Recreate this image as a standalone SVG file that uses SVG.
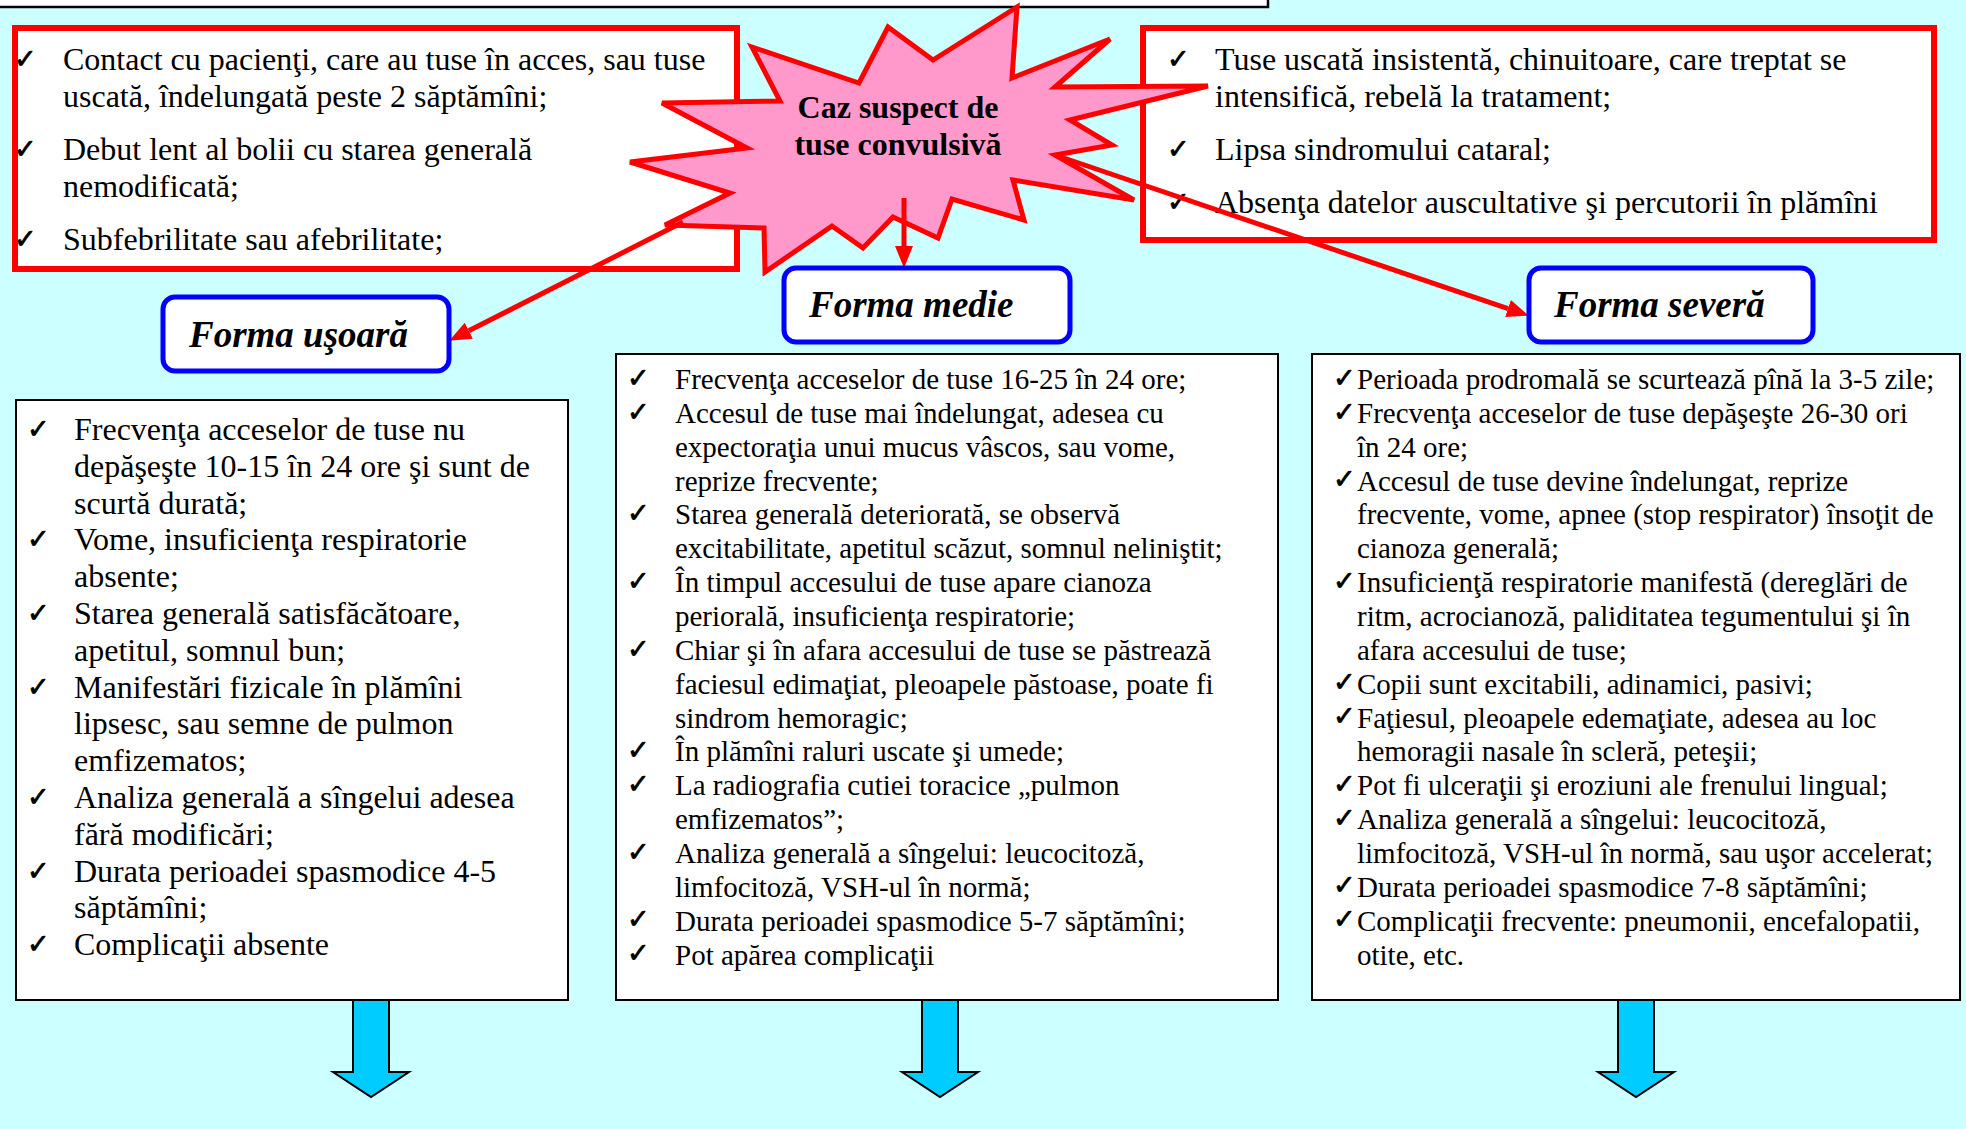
<svg xmlns="http://www.w3.org/2000/svg" width="1966" height="1129" viewBox="0 0 1966 1129">
<style>
.bg{fill:#ccffff}
.redbox{fill:#ffffff;stroke:#ff0000;stroke-width:6}
.formbox{fill:#ffffff;stroke:#0000ff;stroke-width:5}
.listbox{fill:#ffffff;stroke:#000000;stroke-width:2}
.t32{font-family:"Liberation Serif","Times New Roman",serif;font-size:32px;fill:#000}
.t29{font-family:"Liberation Serif","Times New Roman",serif;font-size:29px;fill:#000}
.chk{font-family:"DejaVu Sans",sans-serif;font-size:27px;fill:#000;stroke:#000;stroke-width:0.8}
.star{fill:#ff99cc;stroke:#ff0000;stroke-width:5;stroke-linejoin:miter}
.startxt{font-family:"Liberation Serif","Times New Roman",serif;font-size:32px;font-weight:bold;fill:#000}
.formtxt{font-family:"Liberation Serif","Times New Roman",serif;font-size:37px;font-weight:bold;font-style:italic;fill:#000}
.conn{stroke:#ff0000;stroke-width:5;fill:none}
.blue{fill:#00ccff;stroke:#000;stroke-width:2;stroke-linejoin:miter}
</style>
<defs>
<marker id="ah" markerUnits="userSpaceOnUse" markerWidth="22" markerHeight="18" refX="0" refY="9" orient="auto">
<path d="M0,0 L22,9 L0,18 z" fill="#ff0000"/>
</marker>
</defs>
<rect class="bg" x="0" y="0" width="1966" height="1129"/>
<g id="top-box"><rect x="-5" y="-20" width="1273" height="27" fill="#ffffff" stroke="#000" stroke-width="2.5"/></g>

<g id="criteria-left">
<rect class="redbox" x="15" y="28" width="722" height="241"/>
<text class="chk" x="14" y="68">✓</text>
<text class="chk" x="14" y="158">✓</text>
<text class="chk" x="14" y="248">✓</text>
<text class="t32"><tspan x="63" y="70">Contact cu pacienţi, care au tuse în acces, sau tuse</tspan><tspan x="63" y="107">uscată, îndelungată peste 2 săptămîni;</tspan><tspan x="63" y="160">Debut lent al bolii cu starea generală</tspan><tspan x="63" y="197">nemodificată;</tspan><tspan x="63" y="250">Subfebrilitate sau afebrilitate;</tspan></text>
</g>

<g id="criteria-right">
<rect class="redbox" x="1143" y="28" width="791" height="212"/>
<text class="chk" x="1167" y="68">✓</text>
<text class="chk" x="1167" y="158">✓</text>
<text class="chk" x="1167" y="211">✓</text>
<text class="t32"><tspan x="1215" y="70">Tuse uscată insistentă, chinuitoare, care treptat se</tspan><tspan x="1215" y="107">intensifică, rebelă la tratament;</tspan><tspan x="1215" y="160">Lipsa sindromului cataral;</tspan><tspan x="1215" y="213">Absenţa datelor auscultative şi percutorii în plămîni</tspan></text>
</g>

<g id="suspect">
<polygon class="star" points="1017,7 1012,78 1110,39 1055,87 1208,86 1070,120 1112,145 1055,155 1134,200 1013,180 1024,220 952,199 938,238 893,217 863,248 832,226 765,272 764,228 665,225 730,193 630,162 747,148 662,103 780,101 752,47 859,83 888,27 933,60"/>
<text class="startxt" text-anchor="middle"><tspan x="898" y="118">Caz suspect de</tspan><tspan x="898" y="155">tuse convulsivă</tspan></text>
</g>

<g id="connectors">
<line class="conn" x1="683" y1="222" x2="468.8" y2="330.8" marker-end="url(#ah)"/>
<line class="conn" x1="904" y1="198" x2="904" y2="246" marker-end="url(#ah)"/>
<line class="conn" x1="1055" y1="155" x2="1508" y2="308.6" marker-end="url(#ah)"/>
</g>

<g id="forma-usoara">
<rect class="formbox" x="163" y="297" width="286" height="74" rx="12"/>
<text class="formtxt" x="189" y="347">Forma uşoară</text>
</g>
<g id="forma-medie">
<rect class="formbox" x="784" y="268" width="286" height="74" rx="12"/>
<text class="formtxt" x="809" y="317">Forma medie</text>
</g>
<g id="forma-severa">
<rect class="formbox" x="1529" y="268" width="284" height="74" rx="12"/>
<text class="formtxt" x="1554" y="317">Forma severă</text>
</g>

<g id="list-usoara">
<rect class="listbox" x="16" y="400" width="552" height="600"/>
<g class="chk"><text x="27" y="438">✓</text><text x="27" y="548">✓</text><text x="27" y="622">✓</text><text x="27" y="696">✓</text><text x="27" y="806">✓</text><text x="27" y="880">✓</text><text x="27" y="953">✓</text></g>
<text class="t32"><tspan x="74" y="440">Frecvenţa acceselor de tuse nu</tspan><tspan x="74" y="476.8">depăşeşte 10-15 în 24 ore şi sunt de</tspan><tspan x="74" y="513.6">scurtă durată;</tspan><tspan x="74" y="550.4">Vome, insuficienţa respiratorie</tspan><tspan x="74" y="587.2">absente;</tspan><tspan x="74" y="624">Starea generală satisfăcătoare,</tspan><tspan x="74" y="660.8">apetitul, somnul bun;</tspan><tspan x="74" y="697.6">Manifestări fizicale în plămîni</tspan><tspan x="74" y="734.4">lipsesc, sau semne de pulmon</tspan><tspan x="74" y="771.2">emfizematos;</tspan><tspan x="74" y="808">Analiza generală a sîngelui adesea</tspan><tspan x="74" y="844.8">fără modificări;</tspan><tspan x="74" y="881.6">Durata perioadei spasmodice 4-5</tspan><tspan x="74" y="918.4">săptămîni;</tspan><tspan x="74" y="955.2">Complicaţii absente</tspan></text>
</g>

<g id="list-medie">
<rect class="listbox" x="616" y="354" width="662" height="646"/>
<g class="chk"><text x="627" y="387">✓</text><text x="627" y="421">✓</text><text x="627" y="522">✓</text><text x="627" y="590">✓</text><text x="627" y="658">✓</text><text x="627" y="759">✓</text><text x="627" y="793">✓</text><text x="627" y="861">✓</text><text x="627" y="928">✓</text><text x="627" y="962">✓</text></g>
<text class="t29"><tspan x="675" y="389">Frecvenţa acceselor de tuse 16-25 în 24 ore;</tspan><tspan x="675" y="422.9">Accesul de tuse mai îndelungat, adesea cu</tspan><tspan x="675" y="456.7">expectoraţia unui mucus vâscos, sau vome,</tspan><tspan x="675" y="490.6">reprize frecvente;</tspan><tspan x="675" y="524.4">Starea generală deteriorată, se observă</tspan><tspan x="675" y="558.3">excitabilitate, apetitul scăzut, somnul neliniştit;</tspan><tspan x="675" y="592.1">În timpul accesului de tuse apare cianoza</tspan><tspan x="675" y="626">periorală, insuficienţa respiratorie;</tspan><tspan x="675" y="659.8">Chiar şi în afara accesului de tuse se păstrează</tspan><tspan x="675" y="693.7">faciesul edimaţiat, pleoapele păstoase, poate fi</tspan><tspan x="675" y="727.5">sindrom hemoragic;</tspan><tspan x="675" y="761.4">În plămîni raluri uscate şi umede;</tspan><tspan x="675" y="795.2">La radiografia cutiei toracice „pulmon</tspan><tspan x="675" y="829.1">emfizematos”;</tspan><tspan x="675" y="862.9">Analiza generală a sîngelui: leucocitoză,</tspan><tspan x="675" y="896.8">limfocitoză, VSH-ul în normă;</tspan><tspan x="675" y="930.6">Durata perioadei spasmodice 5-7 săptămîni;</tspan><tspan x="675" y="964.5">Pot apărea complicaţii</tspan></text>
</g>

<g id="list-severa">
<rect class="listbox" x="1312" y="354" width="648" height="646"/>
<g class="chk"><text x="1333" y="387">✓</text><text x="1333" y="421">✓</text><text x="1333" y="488">✓</text><text x="1333" y="590">✓</text><text x="1333" y="691">✓</text><text x="1333" y="725">✓</text><text x="1333" y="793">✓</text><text x="1333" y="827">✓</text><text x="1333" y="894">✓</text><text x="1333" y="928">✓</text></g>
<text class="t29"><tspan x="1357" y="389">Perioada prodromală se scurtează pînă la 3-5 zile;</tspan><tspan x="1357" y="422.9">Frecvenţa acceselor de tuse depăşeşte 26-30 ori</tspan><tspan x="1357" y="456.7">în 24 ore;</tspan><tspan x="1357" y="490.6">Accesul de tuse devine îndelungat, reprize</tspan><tspan x="1357" y="524.4">frecvente, vome, apnee (stop respirator) însoţit de</tspan><tspan x="1357" y="558.3">cianoza generală;</tspan><tspan x="1357" y="592.1">Insuficienţă respiratorie manifestă (dereglări de</tspan><tspan x="1357" y="626">ritm, acrocianoză, paliditatea tegumentului şi în</tspan><tspan x="1357" y="659.8">afara accesului de tuse;</tspan><tspan x="1357" y="693.7">Copii sunt excitabili, adinamici, pasivi;</tspan><tspan x="1357" y="727.5">Faţiesul, pleoapele edemaţiate, adesea au loc</tspan><tspan x="1357" y="761.4">hemoragii nasale în scleră, peteşii;</tspan><tspan x="1357" y="795.2">Pot fi ulceraţii şi eroziuni ale frenului lingual;</tspan><tspan x="1357" y="829.1">Analiza generală a sîngelui: leucocitoză,</tspan><tspan x="1357" y="862.9">limfocitoză, VSH-ul în normă, sau uşor accelerat;</tspan><tspan x="1357" y="896.8">Durata perioadei spasmodice 7-8 săptămîni;</tspan><tspan x="1357" y="930.6">Complicaţii frecvente: pneumonii, encefalopatii,</tspan><tspan x="1357" y="964.5">otite, etc.</tspan></text>
</g>

<g id="down-arrows">
<polygon class="blue" points="353,1000 389,1000 389,1072 409,1072 371,1097 333,1072 353,1072"/>
<polygon class="blue" points="922,1000 958,1000 958,1072 978,1072 940,1097 902,1072 922,1072"/>
<polygon class="blue" points="1618,1000 1654,1000 1654,1072 1674,1072 1636,1097 1598,1072 1618,1072"/>
</g>
</svg>
